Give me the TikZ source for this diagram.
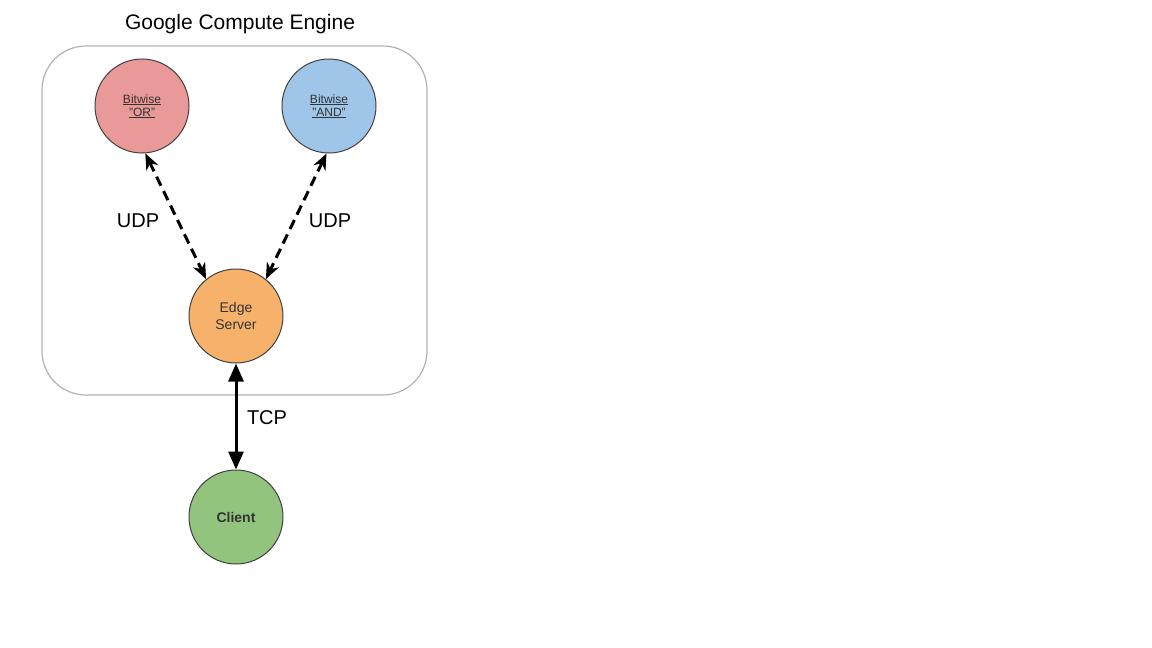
\documentclass[tikz,border=0pt]{standalone}
\usepackage{fontspec}
\setmainfont{Liberation Sans}
\newcommand\ulbox[1]{\setbox0\hbox{#1}\rlap{\rule[-0.7pt]{\wd0}{0.3pt}}\box0}
\usetikzlibrary{arrows.meta}
\definecolor{orred}{HTML}{EA9999}
\definecolor{andblue}{HTML}{9FC5E8}
\definecolor{edgeorange}{HTML}{F6B26B}
\definecolor{clientgreen}{HTML}{93C47D}
\begin{document}
\begin{tikzpicture}[x=.5pt, y=-.5pt, >={Stealth[length=8pt,width=6.5pt,inset=2.5pt]},
  hub/.style={circle, draw=black!75, line width=.5pt, minimum size=47pt, inner sep=0pt, align=center, text=black!80},
  link/.style={line width=1.5pt, <->}]
\useasboundingbox (0,0) rectangle (1152,648);
\draw[rounded corners=22pt, draw=black!30, line width=.6pt](42,46) rectangle (427,395);
\node (gce) at (240,24) {\fontsize{10.5}{12}\selectfont Google Compute Engine};
\node[hub, fill=orred, font=\fontsize{6}{6.6}\selectfont](or) at (142,106){\ulbox{Bitwise}\\\ulbox{"OR"}};
\node[hub, fill=andblue, font=\fontsize{6}{6.6}\selectfont](and) at (329,106){\ulbox{Bitwise}\\\ulbox{"AND"}};
\node[hub, fill=edgeorange, font=\fontsize{7}{8.5}\selectfont](edge) at (236,316){Edge\\Server};
\node[hub, fill=clientgreen, font=\fontsize{7}{8.5}\selectfont\bfseries](client) at (236,517){Client};
\draw[link, dash pattern=on 5pt off 3pt](or.274)--(edge.129);
\draw[link, dash pattern=on 5pt off 3pt](and.267)--(edge.51);
\draw[link, >={Triangle[length=9pt,width=7.5pt]}](edge.south)--(client.north);
\node (udpor) at (138,221) {\fontsize{10}{12}\selectfont UDP};
\node (udpand) at (330,221) {\fontsize{10}{12}\selectfont UDP};
\node (tcp) at (267,418) {\fontsize{10}{12}\selectfont TCP};
\end{tikzpicture}
\end{document}
